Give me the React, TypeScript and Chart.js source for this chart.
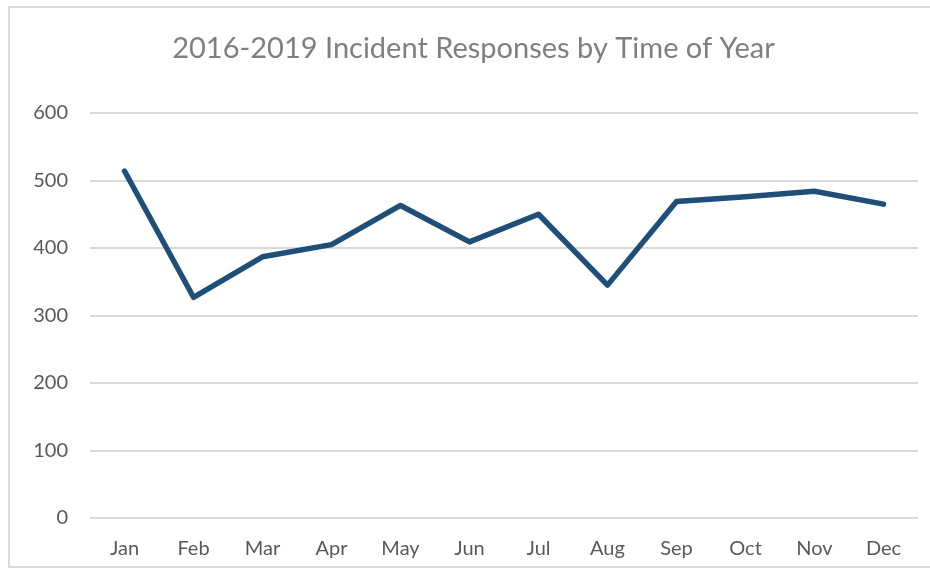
import React, { useEffect, useRef } from "react";
import { Chart, registerables } from "chart.js";

Chart.register(...registerables);

const months = ["Jan", "Feb", "Mar", "Apr", "May", "Jun", "Jul", "Aug", "Sep", "Oct", "Nov", "Dec"];
const responses = [514, 327, 387, 405, 463, 409, 450, 345, 469, 476, 484, 465];
const yTicks = [0, 100, 200, 300, 400, 500, 600];
const titleText = "2016-2019 Incident Responses by Time of Year";

const FONT = "Lato, 'Open Sans', sans-serif";

// Light frame around the whole chart plus the centred title
const framePlugin = {
  id: "frameAndTitle",
  beforeDraw(chart: any) {
    const ctx = chart.ctx;
    ctx.save();
    ctx.fillStyle = "#ffffff";
    ctx.fillRect(0, 0, chart.width, chart.height);
    ctx.strokeStyle = "#d9d9d9";
    ctx.lineWidth = 2;
    ctx.strokeRect(9, 7, chart.width + 10, 560);
    ctx.restore();
  },
  afterDraw(chart: any) {
    const ctx = chart.ctx;
    ctx.save();
    ctx.fillStyle = "#7f7f7f";
    ctx.font = `29px ${FONT}`;
    ctx.textAlign = "center";
    ctx.textBaseline = "alphabetic";
    ctx.fillText(titleText, 473.5, 58);
    ctx.restore();
  },
};

export default function App() {
  const canvasRef = useRef<HTMLCanvasElement | null>(null);

  useEffect(() => {
    if (!canvasRef.current) return;
    const chart = new Chart(canvasRef.current, {
      type: "line",
      data: {
        labels: months,
        datasets: [
          {
            label: "Incident Responses",
            data: responses,
            borderColor: "#1F4E79",
            backgroundColor: "#1F4E79",
            borderWidth: 5.5,
            pointRadius: 0,
            tension: 0,
            borderCapStyle: "round",
            borderJoinStyle: "round",
          },
        ],
      },
      options: {
        responsive: false,
        animation: false,
        layout: { padding: { left: 0, right: 12, top: 113, bottom: 0 } },
        plugins: {
          legend: { display: false },
          title: { display: false },
          tooltip: { enabled: false },
        },
        scales: {
          x: {
            offset: true,
            grid: { display: false, drawTicks: false },
            border: { display: false },
            ticks: {
              color: "#595959",
              font: { family: FONT, size: 20 },
              padding: 19,
              maxRotation: 0,
            },
            afterFit(scale: any) {
              scale.height = 51;
            },
          },
          y: {
            min: 0,
            max: 600,
            afterBuildTicks(scale: any) {
              scale.ticks = yTicks.map((v) => ({ value: v }));
            },
            grid: { color: "#d9d9d9", lineWidth: 2, drawTicks: false },
            border: { display: false },
            ticks: {
              color: "#595959",
              font: { family: FONT, size: 20 },
              padding: 22,
            },
            afterFit(scale: any) {
              scale.width = 90;
            },
          },
        },
      },
      plugins: [framePlugin],
    });
    return () => chart.destroy();
  }, []);

  return (
    <div style={{ position: "fixed", left: 0, top: 0, width: 930, height: 569, background: "#fff" }}>
      <canvas ref={canvasRef} width={930} height={569} style={{ display: "block" }} />
    </div>
  );
}
